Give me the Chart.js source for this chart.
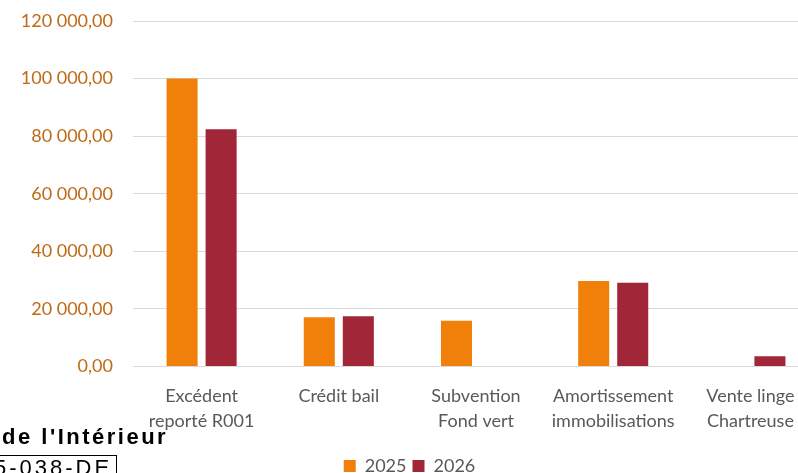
<!DOCTYPE html>
<html>
<head>
<meta charset="utf-8">
<script src="https://cdn.jsdelivr.net/npm/chart.js@4/dist/chart.umd.min.js"></script>
<style>
  html, body { margin: 0; padding: 0; background: #fff; overflow: hidden; width: 798px; height: 473px; }
  #wrap { position: absolute; left: 0; top: 0; width: 856px; height: 473px; }
  .stamp { position: absolute; font-family: "Liberation Sans", Arial, sans-serif; color: #000; white-space: nowrap; }
  #s1 { left: 2px; top: 424px; font-size: 22px; font-weight: bold; letter-spacing: 2.5px; line-height: 26px; }
  #s2 { left: -7px; top: 455px; font-size: 22px; letter-spacing: 3px; border: 1px solid #000; padding: 0 4px 0 0; line-height: 24px; }
</style>
</head>
<body>
<div id="wrap"><canvas id="c" width="856" height="473"></canvas></div>
<div class="stamp" id="s1">de l'Intérieur</div>
<div class="stamp" id="s2">5-038-DE</div>
<script>
const categories = [
  ["Excédent", "reporté R001"],
  ["Crédit bail"],
  ["Subvention", "Fond vert"],
  ["Amortissement", "immobilisations"],
  ["Vente linge", "Chartreuse"]
];
const values2025 = [100000, 17100, 15900, 29700, null];
const values2026 = [82400, 17400, null, 29100, 3500];
const yTicks = [0, 20000, 40000, 60000, 80000, 100000, 120000];

function fmt(v) {
  const s = Math.round(v).toString().replace(/\B(?=(\d{3})+(?!\d))/g, " ");
  return s + ",00";
}

Chart.defaults.font.family = "Lato, 'Open Sans', sans-serif";
Chart.defaults.font.size = 18;

new Chart(document.getElementById("c"), {
  type: "bar",
  data: {
    labels: categories,
    datasets: [
      { label: "2025", data: values2025, backgroundColor: "#F0800A", categoryPercentage: 0.569, barPercentage: 0.795 },
      { label: "2026", data: values2026, backgroundColor: "#A02638", categoryPercentage: 0.569, barPercentage: 0.795 }
    ]
  },
  options: {
    responsive: false,
    animation: false,
    layout: { padding: { left: 0, right: 37, top: 21, bottom: -12 } },
    plugins: {
      legend: {
        position: "bottom",
        labels: { color: "#595959", boxWidth: 12, boxHeight: 12, padding: 6, font: { size: 18 } }
      },
      tooltip: { enabled: false }
    },
    scales: {
      x: {
        grid: { display: false, drawTicks: false },
        border: { display: false },
        ticks: { color: "#595959", padding: 18, font: { size: 18, lineHeight: 1.35 }, maxRotation: 0, autoSkip: false }
      },
      y: {
        min: 0, max: 120000,
        afterBuildTicks: (axis) => { axis.ticks = yTicks.map(v => ({ value: v })); },
        afterFit: (axis) => { axis.width = 133; axis.paddingTop = 0; axis.paddingBottom = 0; },
        grid: { color: "#D9D9D9", lineWidth: 1, drawTicks: false },
        border: { display: false },
        ticks: { color: "#BF6A16", padding: 20, callback: (v) => fmt(v), font: { size: 18 } }
      }
    }
  }
});
</script>
</body>
</html>
